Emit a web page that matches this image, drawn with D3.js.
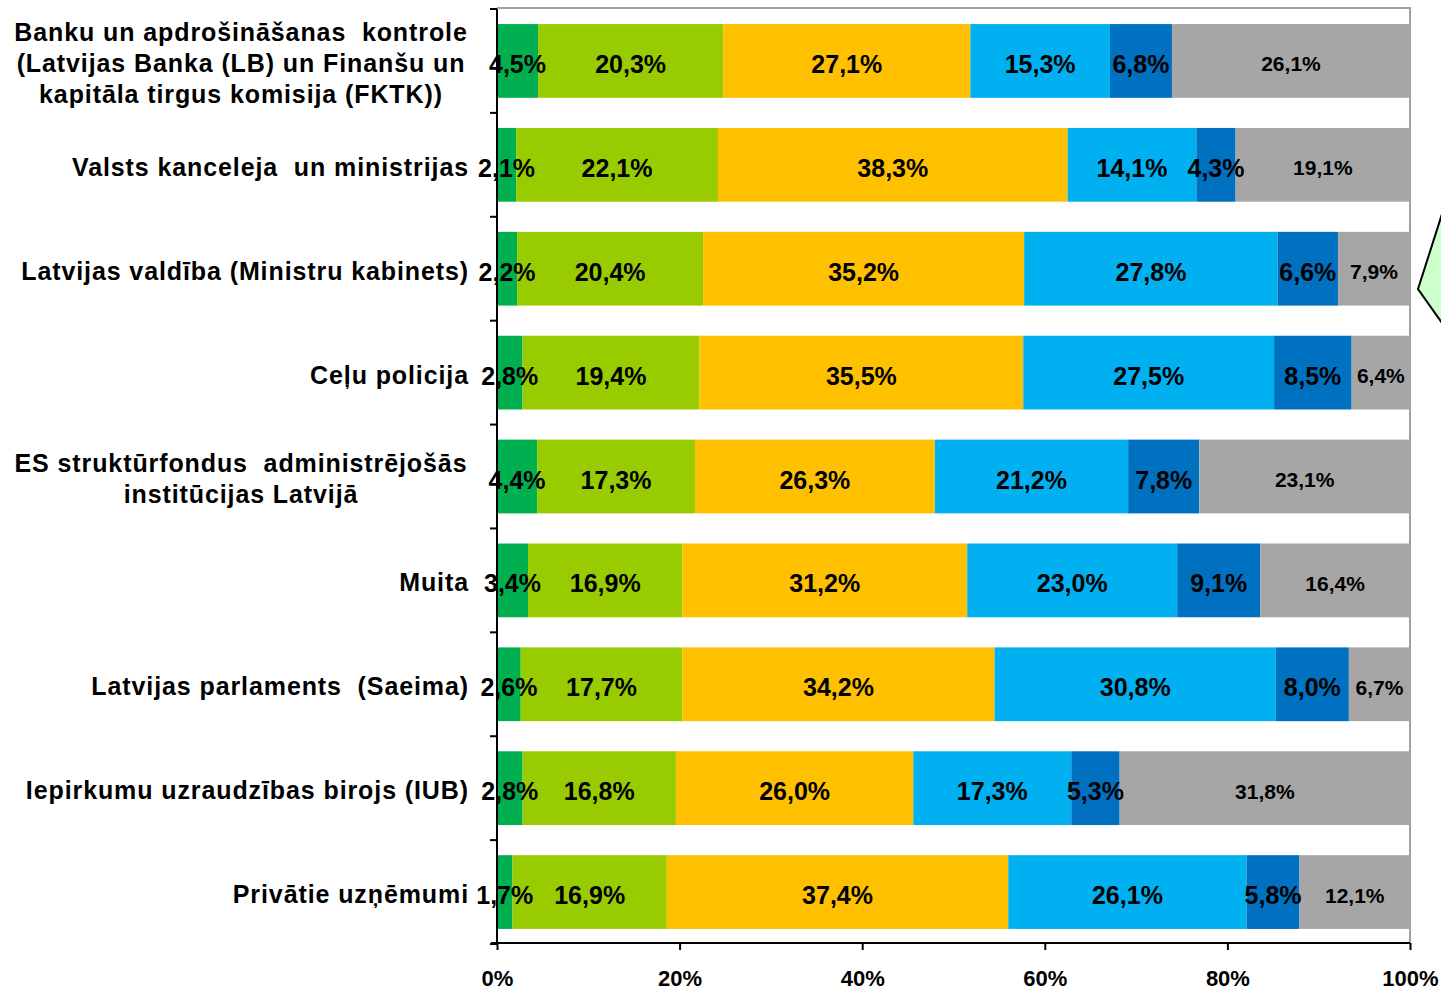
<!DOCTYPE html>
<html>
<head>
<meta charset="utf-8">
<script src="https://cdn.jsdelivr.net/npm/d3@7"></script>
<style>
    html, body { margin: 0; padding: 0; background: #fff; }
    svg { display: block; font-family: "Liberation Sans", Arial, sans-serif; font-weight: bold; }
    .cat { white-space: pre; letter-spacing: 0.9px; }
</style>
</head>
<body>
<svg id="chart" width="1441" height="993"></svg>
<script>
// Categories, top to bottom (multi-line labels split into lines)
const categories = [
    ['Banku un apdrošināšanas  kontrole', '(Latvijas Banka (LB) un Finanšu un', 'kapitāla tirgus komisija (FKTK))'],
    ['Valsts kanceleja  un ministrijas'],
    ['Latvijas valdība (Ministru kabinets)'],
    ['Ceļu policija'],
    ['ES struktūrfondus  administrējošās', 'institūcijas Latvijā'],
    ['Muita'],
    ['Latvijas parlaments  (Saeima)'],
    ['Iepirkumu uzraudzības birojs (IUB)'],
    ['Privātie uzņēmumi']
];

// Series values (% per category, same order as categories)
const s1 = [4.5, 2.1, 2.2, 2.8, 4.4, 3.4, 2.6, 2.8, 1.7];
const s2 = [20.3, 22.1, 20.4, 19.4, 17.3, 16.9, 17.7, 16.8, 16.9];
const s3 = [27.1, 38.3, 35.2, 35.5, 26.3, 31.2, 34.2, 26.0, 37.4];
const s4 = [15.3, 14.1, 27.8, 27.5, 21.2, 23.0, 30.8, 17.3, 26.1];
const s5 = [6.8, 4.3, 6.6, 8.5, 7.8, 9.1, 8.0, 5.3, 5.8];
const s6 = [26.1, 19.1, 7.9, 6.4, 23.1, 16.4, 6.7, 31.8, 12.1];

const xTicks = [0, 0.2, 0.4, 0.6, 0.8, 1];

const series = [s1, s2, s3, s4, s5, s6];
const colours = ['#00B050', '#99CC00', '#FFC000', '#00B0F0', '#0070C0', '#A6A6A6'];

const svg = d3.select('#chart');
const plotL = 497, plotR = 1410, plotT = 9, plotB = 944;

// build the stacked rows, normalised to 100%
const rows = categories.map((c, i) => {
    const vals = series.map(s => s[i]);
    const total = d3.sum(vals);
    let acc = 0;
    return vals.map((v, k) => {
        const seg = {row: i, k: k, v: v, x0: acc / total, x1: (acc + v) / total};
        acc += v;
        return seg;
    });
});

const x = d3.scaleLinear().domain([0, 1]).range([plotL, plotR]);
const y = d3.scaleBand().domain(d3.range(categories.length)).range([plotT, plotB])
    .paddingInner(0.29).paddingOuter(0.145);

// plot frame (gray top/right edges like the excel plot area)
svg.append('path')
    .attr('d', `M${plotL},${plotT - 1}H${plotR}V${plotB}`)
    .attr('fill', 'none').attr('stroke', '#a0a0a0').attr('stroke-width', 2);

// bars
const rowG = svg.selectAll('.row').data(rows).join('g').attr('class', 'row');
rowG.selectAll('rect').data(d => d).join('rect')
    .attr('x', d => x(d.x0))
    .attr('width', d => x(d.x1) - x(d.x0))
    .attr('y', d => y(d.row))
    .attr('height', y.bandwidth())
    .attr('fill', d => colours[d.k]);

// value labels
const fmt = v => v.toFixed(1).replace('.', ',') + '%';
rowG.selectAll('text').data(d => d).join('text')
    .attr('x', d => (x(d.x0) + x(d.x1)) / 2)
    .attr('y', d => y(d.row) + y.bandwidth() / 2 + 3)
    .attr('text-anchor', 'middle')
    .attr('dominant-baseline', 'central')
    .attr('font-size', d => d.k === 5 ? 21 : 25)
    .attr('fill', '#000')
    .text(d => fmt(d.v));

// y axis: line + ticks at band boundaries
svg.append('line').attr('x1', plotL).attr('x2', plotL).attr('y1', plotT).attr('y2', plotB)
    .attr('stroke', '#000').attr('stroke-width', 2);
svg.selectAll('.ytick').data(d3.range(categories.length + 1)).join('line')
    .attr('class', 'ytick')
    .attr('x1', plotL - 7).attr('x2', plotL)
    .attr('y1', i => plotT + i * y.step()).attr('y2', i => plotT + i * y.step())
    .attr('stroke', '#000').attr('stroke-width', 2);

// x axis
const xAxis = svg.append('g').attr('transform', `translate(0,${plotB - 1})`)
    .call(d3.axisBottom(x).tickValues(xTicks).tickFormat(d3.format('.0%')).tickSize(7).tickPadding(20));
xAxis.select('.domain').attr('stroke-width', 2).attr('d', `M${plotL - 6},0H${plotR}`);
xAxis.selectAll('.tick line').attr('stroke-width', 2);
xAxis.selectAll('.tick text')
    .attr('font-size', 22)
    .attr('font-family', '"Liberation Sans", Arial, sans-serif')
    .attr('font-weight', 'bold')
    .attr('fill', '#000');

// category labels
const lineH = 31;
categories.forEach((lines, i) => {
    const cy = y(i) + y.bandwidth() / 2 + 2;
    const multi = lines.length > 1;
    const t = svg.append('text')
        .attr('class', 'cat')
        .attr('text-anchor', multi ? 'middle' : 'end')
        .attr('font-size', 25)
        .attr('fill', '#000');
    lines.forEach((ln, j) => {
        t.append('tspan')
            .attr('x', multi ? 241 : 469)
            .attr('y', cy + (j - (lines.length - 1) / 2) * lineH)
            .attr('dominant-baseline', 'central')
            .text(ln);
    });
});

// the cut-off callout shape at the right edge
svg.append('polygon')
    .attr('points', '1442,214 1418,289 1442,323')
    .attr('fill', '#CCFFCC').attr('stroke', '#000').attr('stroke-width', 2);
</script>
</body>
</html>
